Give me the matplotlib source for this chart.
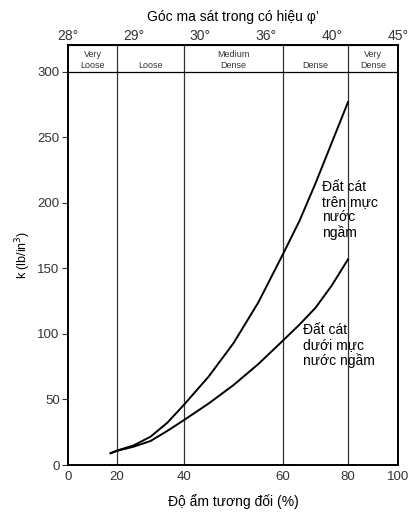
import numpy as np
import matplotlib.pyplot as plt

plt.rcParams['font.family'] = ['Liberation Sans', 'DejaVu Sans']

# relative density ticks (bottom) and friction angle labels (top)
rd_ticks = [0, 20, 40, 60, 80, 100]
angle_labels = ['28°', '29°', '30°', '36°', '40°', '45°']
# axis position of each tick (the chart's axis is not linear)
rd_pos = [0, 49, 116, 215, 280, 330]

bands = ['Very\nLoose', 'Loose', 'Medium\nDense', 'Dense', 'Very\nDense']

# sand above water table
above_x = [17.4, 20, 25, 30, 35, 40, 45, 50, 55, 60, 65, 70, 75, 80]
above_k = [9, 11, 15, 21.6, 32.2, 46, 67.6, 93, 124, 161, 186, 215, 246, 277]
# sand below water table
below_x = [17.4, 20, 25, 30, 35, 40, 45, 50, 55, 60, 65, 70, 75, 80]
below_k = [9, 10.8, 14, 18.3, 26, 34.3, 47, 61, 77, 95, 107, 120, 137, 157]


def fwd(x):
    return np.interp(x, rd_ticks, rd_pos)


def inv(p):
    return np.interp(p, rd_pos, rd_ticks)


fig = plt.figure(figsize=(4.08, 5.16), dpi=100)
ax = fig.add_axes([68/408, 1-465/516, 330/408, 420/516])
ax.set_xscale('function', functions=(fwd, inv))
ax.set_xlim(0, 100)
ax.set_ylim(0, 320.6)

for x in rd_ticks[1:-1]:
    ax.axvline(x, color='#333333', lw=0.9)
ax.axhline(300, color='black', lw=0.9)

for i, lab in enumerate(bands):
    xc = inv((rd_pos[i] + rd_pos[i+1]) / 2)
    ax.text(xc, 301.5, lab, ha='center', va='bottom', fontsize=6.5,
            linespacing=1.3, color='#333333')

ax.plot(above_x, above_k, color='black', lw=1.4)
ax.plot(below_x, below_k, color='black', lw=1.4)

ax.text(inv(254), 217.6, 'Đất cát\ntrên mực\nnước\nngầm',
        fontsize=10, va='top', ha='left', linespacing=1.1)
ax.text(inv(235), 108.4, 'Đất cát\ndưới mực\nnước ngầm',
        fontsize=10, va='top', ha='left', linespacing=1.1)

ax.set_xticks(rd_ticks)
ax.set_xticklabels([str(t) for t in rd_ticks])
ax.set_yticks([0, 50, 100, 150, 200, 250, 300])
ax.tick_params(axis='x', length=0, labelsize=9.5, colors='#333333', pad=4)
ax.tick_params(axis='y', length=4, labelsize=9.5, colors='#333333', pad=2)
for s in ax.spines.values():
    s.set_linewidth(1.4)

sec = ax.secondary_xaxis('top')
sec.set_xticks(rd_ticks)
sec.set_xticklabels(angle_labels)
sec.tick_params(length=0, labelsize=10, colors='#333333', pad=1.5)
sec.set_xlabel('Góc ma sát trong có hiệu φ’', fontsize=10, labelpad=6)

ax.set_xlabel('Độ ẩm tương đối (%)', fontsize=10, labelpad=8)
ax.set_ylabel('k (lb/in$^3$)', fontsize=9, labelpad=3)

fig.savefig('out.png', dpi=100)
